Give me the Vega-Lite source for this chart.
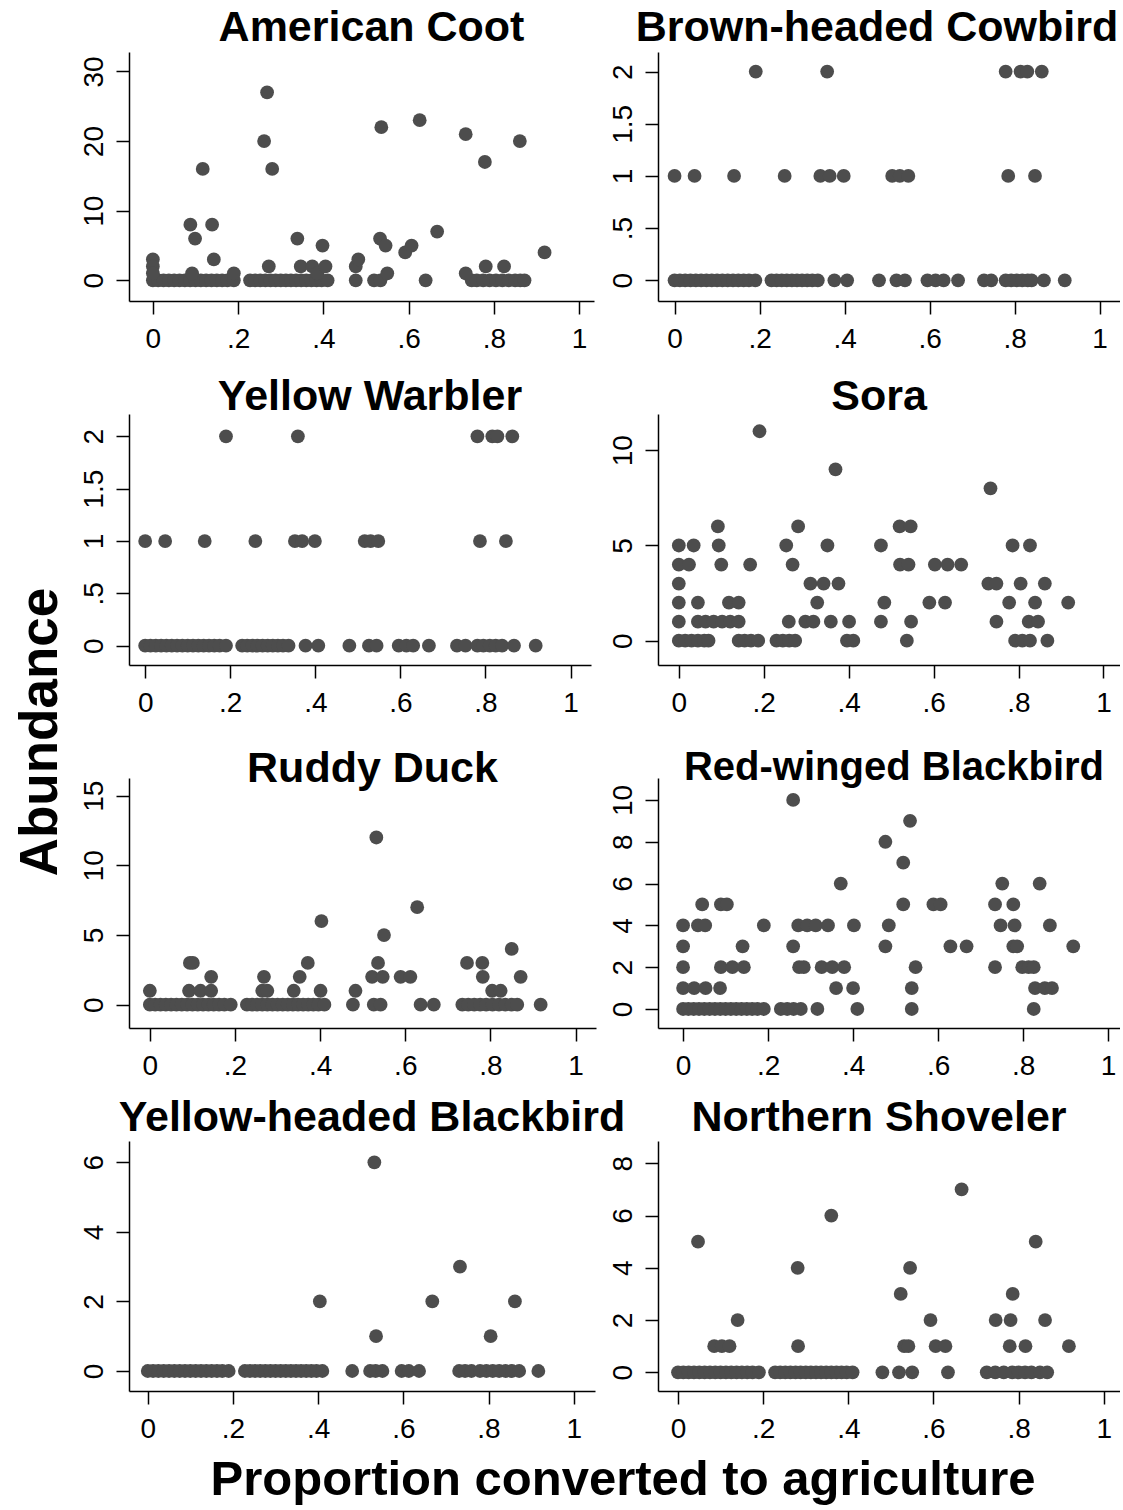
{
"$schema":"https://vega.github.io/schema/vega-lite/v6.json",
"background":"white",
"padding":{"left":14,"top":7,"right":0,"bottom":0},
"config":{
 "view":{"stroke":null},
 "font":"Liberation Sans",
 "title":{"font":"Liberation Sans","fontSize":43,"fontWeight":"bold","color":"black","anchor":"middle","frame":"group"},
 "axis":{"grid":false,"domainColor":"black","domainWidth":1.5,"tickColor":"black","tickWidth":1.5,"tickSize":13,"labelFont":"Liberation Sans","labelFontSize":28,"labelColor":"black","labelOverlap":false,"labelFlush":false,"labelExpr":"replace(format(datum.value,'.1~f'),'0.','.')"},
 "axisX":{"labelBaseline":"alphabetic","labelPadding":33},
 "axisY":{"labelAngle":-90,"labelAlign":"center","labelBaseline":"alphabetic","labelPadding":14},
 "circle":{"size":190,"color":"#4d4d4d","opacity":1}
},
"datasets":{"d":[
{"s":"AC","x":0,"y":0},{"s":"AC","x":0.0125,"y":0},{"s":"AC","x":0.025,"y":0},{"s":"AC","x":0.0375,"y":0},{"s":"AC","x":0.05,"y":0},{"s":"AC","x":0.0625,"y":0},{"s":"AC","x":0.075,"y":0},{"s":"AC","x":0.0875,"y":0},{"s":"AC","x":0.1,"y":0},{"s":"AC","x":0.1125,"y":0},{"s":"AC","x":0.125,"y":0},{"s":"AC","x":0.1375,"y":0},{"s":"AC","x":0.15,"y":0},{"s":"AC","x":0.1625,"y":0},{"s":"AC","x":0.175,"y":0},{"s":"AC","x":0.19,"y":0},
{"s":"AC","x":0.228,"y":0},{"s":"AC","x":0.24,"y":0},{"s":"AC","x":0.252,"y":0},{"s":"AC","x":0.264,"y":0},{"s":"AC","x":0.276,"y":0},{"s":"AC","x":0.288,"y":0},{"s":"AC","x":0.3,"y":0},{"s":"AC","x":0.312,"y":0},{"s":"AC","x":0.324,"y":0},{"s":"AC","x":0.336,"y":0},{"s":"AC","x":0.348,"y":0},{"s":"AC","x":0.36,"y":0},{"s":"AC","x":0.372,"y":0},{"s":"AC","x":0.384,"y":0},{"s":"AC","x":0.396,"y":0},{"s":"AC","x":0.41,"y":0},
{"s":"AC","x":0.476,"y":0},{"s":"AC","x":0.519,"y":0},{"s":"AC","x":0.534,"y":0},{"s":"AC","x":0.64,"y":0},{"s":"AC","x":0.748,"y":0},{"s":"AC","x":0.76,"y":0},{"s":"AC","x":0.775,"y":0},{"s":"AC","x":0.79,"y":0},{"s":"AC","x":0.805,"y":0},{"s":"AC","x":0.82,"y":0},{"s":"AC","x":0.835,"y":0},{"s":"AC","x":0.85,"y":0},{"s":"AC","x":0.862,"y":0},{"s":"AC","x":0.872,"y":0},
{"s":"AC","x":0,"y":3},{"s":"AC","x":0,"y":2},{"s":"AC","x":0,"y":1},{"s":"AC","x":0.092,"y":1},{"s":"AC","x":0.19,"y":1},{"s":"AC","x":0.088,"y":8},{"s":"AC","x":0.099,"y":6},{"s":"AC","x":0.117,"y":16},{"s":"AC","x":0.139,"y":8},{"s":"AC","x":0.143,"y":3},{"s":"AC","x":0.261,"y":20},{"s":"AC","x":0.268,"y":27},{"s":"AC","x":0.28,"y":16},{"s":"AC","x":0.272,"y":2},{"s":"AC","x":0.339,"y":6},{"s":"AC","x":0.347,"y":2},{"s":"AC","x":0.374,"y":2},{"s":"AC","x":0.386,"y":1},{"s":"AC","x":0.398,"y":5},{"s":"AC","x":0.405,"y":2},{"s":"AC","x":0.476,"y":2},{"s":"AC","x":0.482,"y":3},{"s":"AC","x":0.533,"y":6},{"s":"AC","x":0.536,"y":22},{"s":"AC","x":0.546,"y":5},{"s":"AC","x":0.55,"y":1},{"s":"AC","x":0.592,"y":4},{"s":"AC","x":0.607,"y":5},{"s":"AC","x":0.626,"y":23},{"s":"AC","x":0.667,"y":7},{"s":"AC","x":0.734,"y":21},{"s":"AC","x":0.734,"y":1},{"s":"AC","x":0.779,"y":17},{"s":"AC","x":0.781,"y":2},{"s":"AC","x":0.824,"y":2},{"s":"AC","x":0.861,"y":20},{"s":"AC","x":0.919,"y":4},

{"s":"BHC","x":0,"y":0},{"s":"BHC","x":0.0125,"y":0},{"s":"BHC","x":0.025,"y":0},{"s":"BHC","x":0.0375,"y":0},{"s":"BHC","x":0.05,"y":0},{"s":"BHC","x":0.0625,"y":0},{"s":"BHC","x":0.075,"y":0},{"s":"BHC","x":0.0875,"y":0},{"s":"BHC","x":0.1,"y":0},{"s":"BHC","x":0.1125,"y":0},{"s":"BHC","x":0.125,"y":0},{"s":"BHC","x":0.1375,"y":0},{"s":"BHC","x":0.15,"y":0},{"s":"BHC","x":0.1625,"y":0},{"s":"BHC","x":0.175,"y":0},{"s":"BHC","x":0.19,"y":0},
{"s":"BHC","x":0.228,"y":0},{"s":"BHC","x":0.24,"y":0},{"s":"BHC","x":0.252,"y":0},{"s":"BHC","x":0.264,"y":0},{"s":"BHC","x":0.276,"y":0},{"s":"BHC","x":0.288,"y":0},{"s":"BHC","x":0.3,"y":0},{"s":"BHC","x":0.312,"y":0},{"s":"BHC","x":0.324,"y":0},{"s":"BHC","x":0.337,"y":0},
{"s":"BHC","x":0.376,"y":0},{"s":"BHC","x":0.406,"y":0},{"s":"BHC","x":0.481,"y":0},{"s":"BHC","x":0.522,"y":0},{"s":"BHC","x":0.542,"y":0},{"s":"BHC","x":0.595,"y":0},{"s":"BHC","x":0.614,"y":0},{"s":"BHC","x":0.633,"y":0},{"s":"BHC","x":0.667,"y":0},{"s":"BHC","x":0.728,"y":0},{"s":"BHC","x":0.745,"y":0},{"s":"BHC","x":0.779,"y":0},{"s":"BHC","x":0.792,"y":0},{"s":"BHC","x":0.805,"y":0},{"s":"BHC","x":0.818,"y":0},{"s":"BHC","x":0.831,"y":0},{"s":"BHC","x":0.84,"y":0},{"s":"BHC","x":0.869,"y":0},{"s":"BHC","x":0.918,"y":0},
{"s":"BHC","x":0,"y":1},{"s":"BHC","x":0.047,"y":1},{"s":"BHC","x":0.14,"y":1},{"s":"BHC","x":0.259,"y":1},{"s":"BHC","x":0.343,"y":1},{"s":"BHC","x":0.365,"y":1},{"s":"BHC","x":0.398,"y":1},{"s":"BHC","x":0.512,"y":1},{"s":"BHC","x":0.53,"y":1},{"s":"BHC","x":0.55,"y":1},{"s":"BHC","x":0.785,"y":1},{"s":"BHC","x":0.848,"y":1},
{"s":"BHC","x":0.191,"y":2},{"s":"BHC","x":0.359,"y":2},{"s":"BHC","x":0.779,"y":2},{"s":"BHC","x":0.814,"y":2},{"s":"BHC","x":0.83,"y":2},{"s":"BHC","x":0.864,"y":2},

{"s":"YW","x":0,"y":0},{"s":"YW","x":0.0125,"y":0},{"s":"YW","x":0.025,"y":0},{"s":"YW","x":0.0375,"y":0},{"s":"YW","x":0.05,"y":0},{"s":"YW","x":0.0625,"y":0},{"s":"YW","x":0.075,"y":0},{"s":"YW","x":0.0875,"y":0},{"s":"YW","x":0.1,"y":0},{"s":"YW","x":0.1125,"y":0},{"s":"YW","x":0.125,"y":0},{"s":"YW","x":0.1375,"y":0},{"s":"YW","x":0.15,"y":0},{"s":"YW","x":0.1625,"y":0},{"s":"YW","x":0.175,"y":0},{"s":"YW","x":0.19,"y":0},
{"s":"YW","x":0.228,"y":0},{"s":"YW","x":0.24,"y":0},{"s":"YW","x":0.252,"y":0},{"s":"YW","x":0.264,"y":0},{"s":"YW","x":0.276,"y":0},{"s":"YW","x":0.288,"y":0},{"s":"YW","x":0.3,"y":0},{"s":"YW","x":0.312,"y":0},{"s":"YW","x":0.324,"y":0},{"s":"YW","x":0.337,"y":0},
{"s":"YW","x":0.377,"y":0},{"s":"YW","x":0.407,"y":0},{"s":"YW","x":0.48,"y":0},{"s":"YW","x":0.526,"y":0},{"s":"YW","x":0.544,"y":0},{"s":"YW","x":0.596,"y":0},{"s":"YW","x":0.614,"y":0},{"s":"YW","x":0.63,"y":0},{"s":"YW","x":0.667,"y":0},{"s":"YW","x":0.733,"y":0},{"s":"YW","x":0.753,"y":0},{"s":"YW","x":0.781,"y":0},{"s":"YW","x":0.795,"y":0},{"s":"YW","x":0.81,"y":0},{"s":"YW","x":0.824,"y":0},{"s":"YW","x":0.839,"y":0},{"s":"YW","x":0.867,"y":0},{"s":"YW","x":0.918,"y":0},
{"s":"YW","x":0,"y":1},{"s":"YW","x":0.047,"y":1},{"s":"YW","x":0.14,"y":1},{"s":"YW","x":0.259,"y":1},{"s":"YW","x":0.352,"y":1},{"s":"YW","x":0.369,"y":1},{"s":"YW","x":0.399,"y":1},{"s":"YW","x":0.516,"y":1},{"s":"YW","x":0.53,"y":1},{"s":"YW","x":0.548,"y":1},{"s":"YW","x":0.787,"y":1},{"s":"YW","x":0.848,"y":1},
{"s":"YW","x":0.19,"y":2},{"s":"YW","x":0.359,"y":2},{"s":"YW","x":0.781,"y":2},{"s":"YW","x":0.816,"y":2},{"s":"YW","x":0.828,"y":2},{"s":"YW","x":0.863,"y":2},

{"s":"SO","x":0.19,"y":11},{"s":"SO","x":0.369,"y":9},{"s":"SO","x":0.734,"y":8},
{"s":"SO","x":0.092,"y":6},{"s":"SO","x":0.281,"y":6},{"s":"SO","x":0.52,"y":6},{"s":"SO","x":0.546,"y":6},
{"s":"SO","x":0,"y":5},{"s":"SO","x":0.035,"y":5},{"s":"SO","x":0.094,"y":5},{"s":"SO","x":0.253,"y":5},{"s":"SO","x":0.35,"y":5},{"s":"SO","x":0.476,"y":5},{"s":"SO","x":0.786,"y":5},{"s":"SO","x":0.827,"y":5},
{"s":"SO","x":0,"y":4},{"s":"SO","x":0.024,"y":4},{"s":"SO","x":0.1,"y":4},{"s":"SO","x":0.168,"y":4},{"s":"SO","x":0.268,"y":4},{"s":"SO","x":0.521,"y":4},{"s":"SO","x":0.541,"y":4},{"s":"SO","x":0.603,"y":4},{"s":"SO","x":0.633,"y":4},{"s":"SO","x":0.665,"y":4},
{"s":"SO","x":0,"y":3},{"s":"SO","x":0.31,"y":3},{"s":"SO","x":0.341,"y":3},{"s":"SO","x":0.376,"y":3},{"s":"SO","x":0.729,"y":3},{"s":"SO","x":0.748,"y":3},{"s":"SO","x":0.805,"y":3},{"s":"SO","x":0.862,"y":3},
{"s":"SO","x":0,"y":2},{"s":"SO","x":0.045,"y":2},{"s":"SO","x":0.118,"y":2},{"s":"SO","x":0.141,"y":2},{"s":"SO","x":0.326,"y":2},{"s":"SO","x":0.484,"y":2},{"s":"SO","x":0.59,"y":2},{"s":"SO","x":0.627,"y":2},{"s":"SO","x":0.778,"y":2},{"s":"SO","x":0.839,"y":2},{"s":"SO","x":0.917,"y":2},
{"s":"SO","x":0,"y":1},{"s":"SO","x":0.045,"y":1},{"s":"SO","x":0.063,"y":1},{"s":"SO","x":0.082,"y":1},{"s":"SO","x":0.102,"y":1},{"s":"SO","x":0.121,"y":1},{"s":"SO","x":0.141,"y":1},{"s":"SO","x":0.259,"y":1},{"s":"SO","x":0.298,"y":1},{"s":"SO","x":0.317,"y":1},{"s":"SO","x":0.358,"y":1},{"s":"SO","x":0.401,"y":1},{"s":"SO","x":0.476,"y":1},{"s":"SO","x":0.547,"y":1},{"s":"SO","x":0.748,"y":1},{"s":"SO","x":0.824,"y":1},{"s":"SO","x":0.846,"y":1},
{"s":"SO","x":0,"y":0},{"s":"SO","x":0.015,"y":0},{"s":"SO","x":0.03,"y":0},{"s":"SO","x":0.045,"y":0},{"s":"SO","x":0.06,"y":0},{"s":"SO","x":0.07,"y":0},{"s":"SO","x":0.141,"y":0},{"s":"SO","x":0.155,"y":0},{"s":"SO","x":0.17,"y":0},{"s":"SO","x":0.187,"y":0},{"s":"SO","x":0.23,"y":0},{"s":"SO","x":0.245,"y":0},{"s":"SO","x":0.26,"y":0},{"s":"SO","x":0.274,"y":0},{"s":"SO","x":0.396,"y":0},{"s":"SO","x":0.411,"y":0},{"s":"SO","x":0.537,"y":0},{"s":"SO","x":0.792,"y":0},{"s":"SO","x":0.809,"y":0},{"s":"SO","x":0.827,"y":0},{"s":"SO","x":0.868,"y":0},

{"s":"RD","x":0.532,"y":12},{"s":"RD","x":0.628,"y":7},{"s":"RD","x":0.403,"y":6},{"s":"RD","x":0.55,"y":5},{"s":"RD","x":0.85,"y":4},
{"s":"RD","x":0.094,"y":3},{"s":"RD","x":0.101,"y":3},{"s":"RD","x":0.371,"y":3},{"s":"RD","x":0.536,"y":3},{"s":"RD","x":0.745,"y":3},{"s":"RD","x":0.781,"y":3},
{"s":"RD","x":0.144,"y":2},{"s":"RD","x":0.268,"y":2},{"s":"RD","x":0.352,"y":2},{"s":"RD","x":0.522,"y":2},{"s":"RD","x":0.547,"y":2},{"s":"RD","x":0.589,"y":2},{"s":"RD","x":0.612,"y":2},{"s":"RD","x":0.782,"y":2},{"s":"RD","x":0.871,"y":2},
{"s":"RD","x":0,"y":1},{"s":"RD","x":0.092,"y":1},{"s":"RD","x":0.119,"y":1},{"s":"RD","x":0.144,"y":1},{"s":"RD","x":0.264,"y":1},{"s":"RD","x":0.276,"y":1},{"s":"RD","x":0.338,"y":1},{"s":"RD","x":0.401,"y":1},{"s":"RD","x":0.483,"y":1},{"s":"RD","x":0.804,"y":1},{"s":"RD","x":0.824,"y":1},
{"s":"RD","x":0,"y":0},{"s":"RD","x":0.0125,"y":0},{"s":"RD","x":0.025,"y":0},{"s":"RD","x":0.0375,"y":0},{"s":"RD","x":0.05,"y":0},{"s":"RD","x":0.0625,"y":0},{"s":"RD","x":0.075,"y":0},{"s":"RD","x":0.0875,"y":0},{"s":"RD","x":0.1,"y":0},{"s":"RD","x":0.1125,"y":0},{"s":"RD","x":0.125,"y":0},{"s":"RD","x":0.1375,"y":0},{"s":"RD","x":0.15,"y":0},{"s":"RD","x":0.1625,"y":0},{"s":"RD","x":0.175,"y":0},{"s":"RD","x":0.19,"y":0},
{"s":"RD","x":0.228,"y":0},{"s":"RD","x":0.24,"y":0},{"s":"RD","x":0.252,"y":0},{"s":"RD","x":0.264,"y":0},{"s":"RD","x":0.276,"y":0},{"s":"RD","x":0.288,"y":0},{"s":"RD","x":0.3,"y":0},{"s":"RD","x":0.312,"y":0},{"s":"RD","x":0.324,"y":0},{"s":"RD","x":0.336,"y":0},{"s":"RD","x":0.348,"y":0},{"s":"RD","x":0.36,"y":0},{"s":"RD","x":0.372,"y":0},{"s":"RD","x":0.384,"y":0},{"s":"RD","x":0.396,"y":0},{"s":"RD","x":0.41,"y":0},
{"s":"RD","x":0.477,"y":0},{"s":"RD","x":0.526,"y":0},{"s":"RD","x":0.542,"y":0},{"s":"RD","x":0.636,"y":0},{"s":"RD","x":0.667,"y":0},{"s":"RD","x":0.734,"y":0},{"s":"RD","x":0.748,"y":0},{"s":"RD","x":0.762,"y":0},{"s":"RD","x":0.776,"y":0},{"s":"RD","x":0.79,"y":0},{"s":"RD","x":0.805,"y":0},{"s":"RD","x":0.82,"y":0},{"s":"RD","x":0.835,"y":0},{"s":"RD","x":0.85,"y":0},{"s":"RD","x":0.863,"y":0},{"s":"RD","x":0.918,"y":0},

{"s":"RWB","x":0.259,"y":10},{"s":"RWB","x":0.534,"y":9},{"s":"RWB","x":0.476,"y":8},{"s":"RWB","x":0.518,"y":7},
{"s":"RWB","x":0.371,"y":6},{"s":"RWB","x":0.751,"y":6},{"s":"RWB","x":0.839,"y":6},
{"s":"RWB","x":0.045,"y":5},{"s":"RWB","x":0.089,"y":5},{"s":"RWB","x":0.103,"y":5},{"s":"RWB","x":0.518,"y":5},{"s":"RWB","x":0.589,"y":5},{"s":"RWB","x":0.606,"y":5},{"s":"RWB","x":0.734,"y":5},{"s":"RWB","x":0.777,"y":5},
{"s":"RWB","x":0,"y":4},{"s":"RWB","x":0.035,"y":4},{"s":"RWB","x":0.052,"y":4},{"s":"RWB","x":0.19,"y":4},{"s":"RWB","x":0.271,"y":4},{"s":"RWB","x":0.292,"y":4},{"s":"RWB","x":0.312,"y":4},{"s":"RWB","x":0.341,"y":4},{"s":"RWB","x":0.402,"y":4},{"s":"RWB","x":0.484,"y":4},{"s":"RWB","x":0.747,"y":4},{"s":"RWB","x":0.78,"y":4},{"s":"RWB","x":0.863,"y":4},
{"s":"RWB","x":0,"y":3},{"s":"RWB","x":0.14,"y":3},{"s":"RWB","x":0.259,"y":3},{"s":"RWB","x":0.476,"y":3},{"s":"RWB","x":0.629,"y":3},{"s":"RWB","x":0.667,"y":3},{"s":"RWB","x":0.777,"y":3},{"s":"RWB","x":0.786,"y":3},{"s":"RWB","x":0.918,"y":3},
{"s":"RWB","x":0,"y":2},{"s":"RWB","x":0.089,"y":2},{"s":"RWB","x":0.116,"y":2},{"s":"RWB","x":0.143,"y":2},{"s":"RWB","x":0.273,"y":2},{"s":"RWB","x":0.284,"y":2},{"s":"RWB","x":0.326,"y":2},{"s":"RWB","x":0.351,"y":2},{"s":"RWB","x":0.379,"y":2},{"s":"RWB","x":0.547,"y":2},{"s":"RWB","x":0.734,"y":2},{"s":"RWB","x":0.798,"y":2},{"s":"RWB","x":0.813,"y":2},{"s":"RWB","x":0.825,"y":2},
{"s":"RWB","x":0,"y":1},{"s":"RWB","x":0.026,"y":1},{"s":"RWB","x":0.053,"y":1},{"s":"RWB","x":0.087,"y":1},{"s":"RWB","x":0.36,"y":1},{"s":"RWB","x":0.4,"y":1},{"s":"RWB","x":0.538,"y":1},{"s":"RWB","x":0.828,"y":1},{"s":"RWB","x":0.851,"y":1},{"s":"RWB","x":0.868,"y":1},
{"s":"RWB","x":0,"y":0},{"s":"RWB","x":0.0125,"y":0},{"s":"RWB","x":0.025,"y":0},{"s":"RWB","x":0.0375,"y":0},{"s":"RWB","x":0.05,"y":0},{"s":"RWB","x":0.0625,"y":0},{"s":"RWB","x":0.075,"y":0},{"s":"RWB","x":0.0875,"y":0},{"s":"RWB","x":0.1,"y":0},{"s":"RWB","x":0.1125,"y":0},{"s":"RWB","x":0.125,"y":0},{"s":"RWB","x":0.1375,"y":0},{"s":"RWB","x":0.15,"y":0},{"s":"RWB","x":0.1625,"y":0},{"s":"RWB","x":0.175,"y":0},{"s":"RWB","x":0.19,"y":0},
{"s":"RWB","x":0.23,"y":0},{"s":"RWB","x":0.245,"y":0},{"s":"RWB","x":0.26,"y":0},{"s":"RWB","x":0.277,"y":0},{"s":"RWB","x":0.316,"y":0},{"s":"RWB","x":0.41,"y":0},{"s":"RWB","x":0.538,"y":0},{"s":"RWB","x":0.825,"y":0},

{"s":"YHB","x":0.532,"y":6},{"s":"YHB","x":0.733,"y":3},{"s":"YHB","x":0.404,"y":2},{"s":"YHB","x":0.668,"y":2},{"s":"YHB","x":0.862,"y":2},{"s":"YHB","x":0.536,"y":1},{"s":"YHB","x":0.805,"y":1},
{"s":"YHB","x":0,"y":0},{"s":"YHB","x":0.0125,"y":0},{"s":"YHB","x":0.025,"y":0},{"s":"YHB","x":0.0375,"y":0},{"s":"YHB","x":0.05,"y":0},{"s":"YHB","x":0.0625,"y":0},{"s":"YHB","x":0.075,"y":0},{"s":"YHB","x":0.0875,"y":0},{"s":"YHB","x":0.1,"y":0},{"s":"YHB","x":0.1125,"y":0},{"s":"YHB","x":0.125,"y":0},{"s":"YHB","x":0.1375,"y":0},{"s":"YHB","x":0.15,"y":0},{"s":"YHB","x":0.1625,"y":0},{"s":"YHB","x":0.175,"y":0},{"s":"YHB","x":0.19,"y":0},
{"s":"YHB","x":0.228,"y":0},{"s":"YHB","x":0.24,"y":0},{"s":"YHB","x":0.252,"y":0},{"s":"YHB","x":0.264,"y":0},{"s":"YHB","x":0.276,"y":0},{"s":"YHB","x":0.288,"y":0},{"s":"YHB","x":0.3,"y":0},{"s":"YHB","x":0.312,"y":0},{"s":"YHB","x":0.324,"y":0},{"s":"YHB","x":0.336,"y":0},{"s":"YHB","x":0.348,"y":0},{"s":"YHB","x":0.36,"y":0},{"s":"YHB","x":0.372,"y":0},{"s":"YHB","x":0.384,"y":0},{"s":"YHB","x":0.396,"y":0},{"s":"YHB","x":0.41,"y":0},
{"s":"YHB","x":0.48,"y":0},{"s":"YHB","x":0.522,"y":0},{"s":"YHB","x":0.535,"y":0},{"s":"YHB","x":0.551,"y":0},{"s":"YHB","x":0.596,"y":0},{"s":"YHB","x":0.613,"y":0},{"s":"YHB","x":0.637,"y":0},{"s":"YHB","x":0.731,"y":0},{"s":"YHB","x":0.745,"y":0},{"s":"YHB","x":0.76,"y":0},{"s":"YHB","x":0.78,"y":0},{"s":"YHB","x":0.795,"y":0},{"s":"YHB","x":0.81,"y":0},{"s":"YHB","x":0.825,"y":0},{"s":"YHB","x":0.84,"y":0},{"s":"YHB","x":0.855,"y":0},{"s":"YHB","x":0.872,"y":0},{"s":"YHB","x":0.917,"y":0},

{"s":"NS","x":0.666,"y":7},{"s":"NS","x":0.36,"y":6},{"s":"NS","x":0.047,"y":5},{"s":"NS","x":0.84,"y":5},{"s":"NS","x":0.281,"y":4},{"s":"NS","x":0.545,"y":4},{"s":"NS","x":0.523,"y":3},{"s":"NS","x":0.786,"y":3},
{"s":"NS","x":0.14,"y":2},{"s":"NS","x":0.593,"y":2},{"s":"NS","x":0.746,"y":2},{"s":"NS","x":0.781,"y":2},{"s":"NS","x":0.862,"y":2},
{"s":"NS","x":0.085,"y":1},{"s":"NS","x":0.103,"y":1},{"s":"NS","x":0.121,"y":1},{"s":"NS","x":0.282,"y":1},{"s":"NS","x":0.531,"y":1},{"s":"NS","x":0.541,"y":1},{"s":"NS","x":0.605,"y":1},{"s":"NS","x":0.628,"y":1},{"s":"NS","x":0.779,"y":1},{"s":"NS","x":0.816,"y":1},{"s":"NS","x":0.918,"y":1},
{"s":"NS","x":0,"y":0},{"s":"NS","x":0.0125,"y":0},{"s":"NS","x":0.025,"y":0},{"s":"NS","x":0.0375,"y":0},{"s":"NS","x":0.05,"y":0},{"s":"NS","x":0.0625,"y":0},{"s":"NS","x":0.075,"y":0},{"s":"NS","x":0.0875,"y":0},{"s":"NS","x":0.1,"y":0},{"s":"NS","x":0.1125,"y":0},{"s":"NS","x":0.125,"y":0},{"s":"NS","x":0.1375,"y":0},{"s":"NS","x":0.15,"y":0},{"s":"NS","x":0.1625,"y":0},{"s":"NS","x":0.175,"y":0},{"s":"NS","x":0.19,"y":0},
{"s":"NS","x":0.228,"y":0},{"s":"NS","x":0.24,"y":0},{"s":"NS","x":0.252,"y":0},{"s":"NS","x":0.264,"y":0},{"s":"NS","x":0.276,"y":0},{"s":"NS","x":0.288,"y":0},{"s":"NS","x":0.3,"y":0},{"s":"NS","x":0.312,"y":0},{"s":"NS","x":0.324,"y":0},{"s":"NS","x":0.336,"y":0},{"s":"NS","x":0.348,"y":0},{"s":"NS","x":0.36,"y":0},{"s":"NS","x":0.372,"y":0},{"s":"NS","x":0.384,"y":0},{"s":"NS","x":0.396,"y":0},{"s":"NS","x":0.41,"y":0},
{"s":"NS","x":0.48,"y":0},{"s":"NS","x":0.519,"y":0},{"s":"NS","x":0.55,"y":0},{"s":"NS","x":0.634,"y":0},{"s":"NS","x":0.725,"y":0},{"s":"NS","x":0.745,"y":0},{"s":"NS","x":0.765,"y":0},{"s":"NS","x":0.785,"y":0},{"s":"NS","x":0.8,"y":0},{"s":"NS","x":0.815,"y":0},{"s":"NS","x":0.83,"y":0},{"s":"NS","x":0.85,"y":0},{"s":"NS","x":0.867,"y":0}
]},
"data":{"name":"d"},
"title":{"text":"Abundance","orient":"left","fontSize":53,"offset":12,"frame":"bounds","dx":24},
"vconcat":[{
 "title":{"text":"Proportion converted to agriculture","orient":"bottom","fontSize":49,"offset":13,"frame":"bounds","dx":23},
 "bounds":"flush","columns":2,"spacing":{"row":113,"column":62},
 "concat":[
  {"title":{"text":"American Coot","dx":10,"offset":2},"width":465,"height":249,
   "transform":[{"filter":"datum.s==='AC'"}],"mark":"circle",
   "encoding":{"x":{"field":"x","type":"quantitative","scale":{"domain":[-0.056,1.035],"nice":false,"zero":false},"axis":{"title":null,"values":[0,0.2,0.4,0.6,0.8,1]}},
               "y":{"field":"y","type":"quantitative","scale":{"domain":[-2.97,32.8],"nice":false,"zero":false},"axis":{"title":null,"values":[0,10,20,30]}}}},
  {"title":{"text":"Brown-headed Cowbird","dx":-12,"offset":2},"width":462,"height":249,
   "transform":[{"filter":"datum.s==='BHC'"}],"mark":"circle",
   "encoding":{"x":{"field":"x","type":"quantitative","scale":{"domain":[-0.039,1.048],"nice":false,"zero":false},"axis":{"title":null,"values":[0,0.2,0.4,0.6,0.8,1]}},
               "y":{"field":"y","type":"quantitative","scale":{"domain":[-0.198,2.188],"nice":false,"zero":false},"axis":{"title":null,"values":[0,0.5,1,1.5,2]}}}},
  {"title":{"text":"Yellow Warbler","dx":10,"offset":-5},"width":462,"height":251,
   "transform":[{"filter":"datum.s==='YW'"}],"mark":"circle",
   "encoding":{"x":{"field":"x","type":"quantitative","scale":{"domain":[-0.038,1.048],"nice":false,"zero":false},"axis":{"title":null,"values":[0,0.2,0.4,0.6,0.8,1]}},
               "y":{"field":"y","type":"quantitative","scale":{"domain":[-0.184,2.213],"nice":false,"zero":false},"axis":{"title":null,"values":[0,0.5,1,1.5,2]}}}},
  {"title":{"text":"Sora","dx":-10,"offset":-5},"width":462,"height":251,
   "transform":[{"filter":"datum.s==='SO'"}],"mark":"circle",
   "encoding":{"x":{"field":"x","type":"quantitative","scale":{"domain":[-0.049,1.039],"nice":false,"zero":false},"axis":{"title":null,"values":[0,0.2,0.4,0.6,0.8,1]}},
               "y":{"field":"y","type":"quantitative","scale":{"domain":[-1.276,11.906],"nice":false,"zero":false},"axis":{"title":null,"values":[0,5,10]}}}},
  {"title":{"text":"Ruddy Duck","dx":10,"offset":-13},"width":467,"height":250,
   "transform":[{"filter":"datum.s==='RD'"}],"mark":"circle",
   "encoding":{"x":{"field":"x","type":"quantitative","scale":{"domain":[-0.049,1.048],"nice":false,"zero":false},"axis":{"title":null,"values":[0,0.2,0.4,0.6,0.8,1]}},
               "y":{"field":"y","type":"quantitative","scale":{"domain":[-1.673,16.27],"nice":false,"zero":false},"axis":{"title":null,"values":[0,5,10,15]}}}},
  {"title":{"text":"Red-winged Blackbird","fontSize":40,"dx":5,"offset":-10},"width":462,"height":250,
   "transform":[{"filter":"datum.s==='RWB'"}],"mark":"circle",
   "encoding":{"x":{"field":"x","type":"quantitative","scale":{"domain":[-0.059,1.028],"nice":false,"zero":false},"axis":{"title":null,"values":[0,0.2,0.4,0.6,0.8,1]}},
               "y":{"field":"y","type":"quantitative","scale":{"domain":[-0.909,11.05],"nice":false,"zero":false},"axis":{"title":null,"values":[0,2,4,6,8,10]}}}},
  {"title":{"text":"Yellow-headed Blackbird","dx":10,"offset":1},"width":466,"height":250,
   "transform":[{"filter":"datum.s==='YHB'"}],"mark":"circle",
   "encoding":{"x":{"field":"x","type":"quantitative","scale":{"domain":[-0.044,1.05],"nice":false,"zero":false},"axis":{"title":null,"values":[0,0.2,0.4,0.6,0.8,1]}},
               "y":{"field":"y","type":"quantitative","scale":{"domain":[-0.575,6.613],"nice":false,"zero":false},"axis":{"title":null,"values":[0,2,4,6]}}}},
  {"title":{"text":"Northern Shoveler","dx":-10,"offset":1},"width":462,"height":250,
   "transform":[{"filter":"datum.s==='NS'"}],"mark":"circle",
   "encoding":{"x":{"field":"x","type":"quantitative","scale":{"domain":[-0.047,1.038],"nice":false,"zero":false},"axis":{"title":null,"values":[0,0.2,0.4,0.6,0.8,1]}},
               "y":{"field":"y","type":"quantitative","scale":{"domain":[-0.716,8.854],"nice":false,"zero":false},"axis":{"title":null,"values":[0,2,4,6,8]}}}}
 ]
}]
}
